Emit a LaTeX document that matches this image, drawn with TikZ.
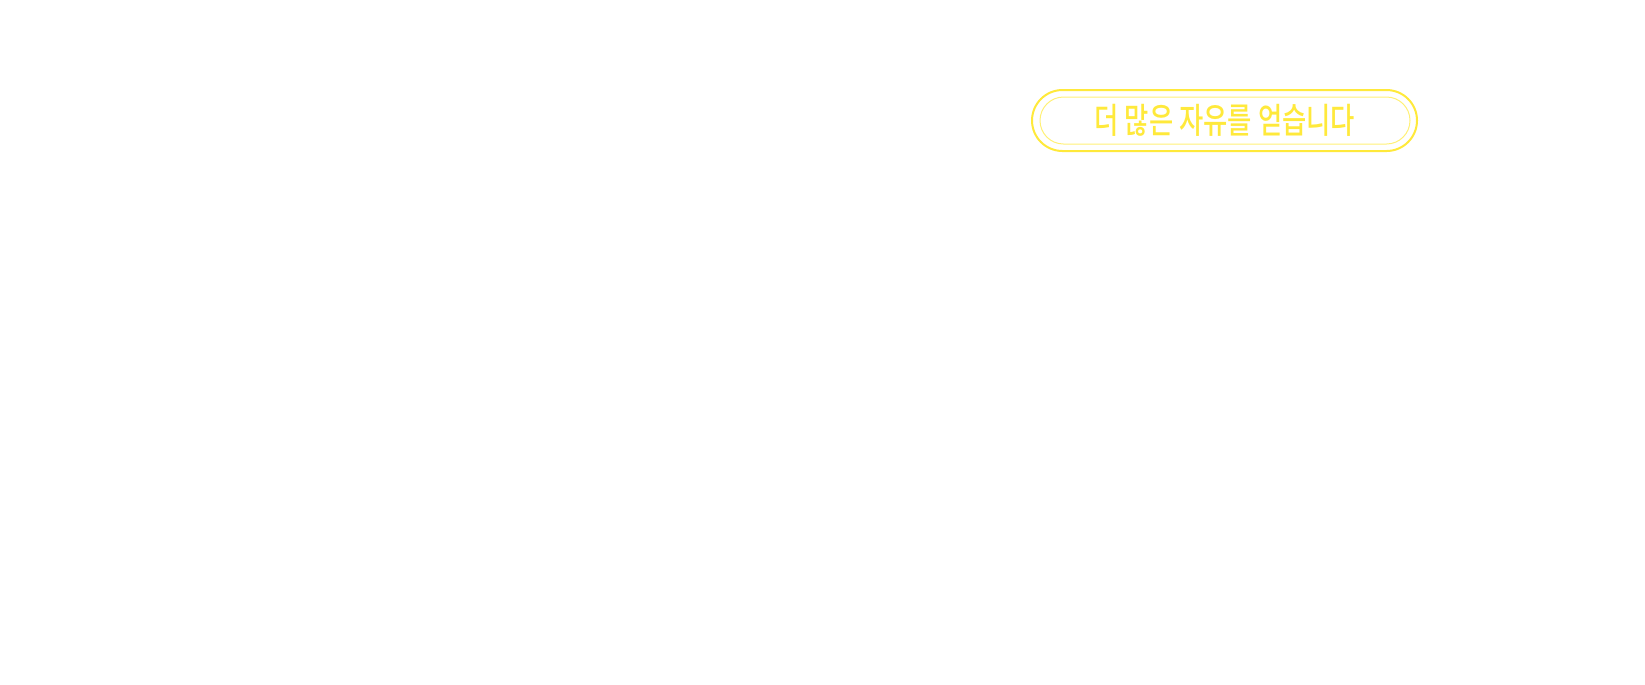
\documentclass[tikz,border=0pt]{standalone}
\usepackage{fontspec}
\newfontfamily\kofont[FakeStretch=0.75]{Noto Sans CJK KR Medium}
\definecolor{pillyellow}{HTML}{FFE93B}
\begin{document}
\begin{tikzpicture}[x=0.01cm,y=-0.01cm]
\useasboundingbox (0,0) rectangle (1645,684);
\draw[pillyellow,line width=0.02cm,rounded corners=0.305cm] (1032,90) rectangle (1417,151);
\draw[pillyellow!70,line width=0.01cm,rounded corners=0.235cm] (1040,97) rectangle (1410,144);
\node[text=pillyellow,font=\kofont\fontsize{10pt}{11pt}\selectfont] (freedom) at (1225,120) {더 많은 자유를 얻습니다};
\end{tikzpicture}
\end{document}
